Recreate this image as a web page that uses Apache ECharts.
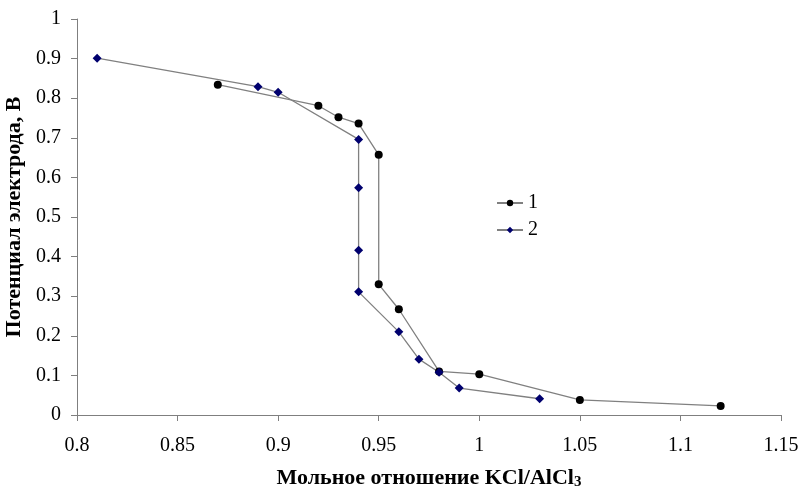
<!DOCTYPE html>
<html><head><meta charset="utf-8">
<script src="https://cdn.jsdelivr.net/npm/echarts@6/dist/echarts.min.js"></script>
<style>html,body{margin:0;padding:0;background:#fff}#c{width:798px;height:488px}</style>
</head><body><div id="c"></div>
<script>
const series1X = [0.87, 0.92, 0.93, 0.94, 0.95, 0.95, 0.96, 0.98, 1.00, 1.05, 1.12];
const series1Y = [0.834, 0.781, 0.752, 0.736, 0.657, 0.330, 0.267, 0.110, 0.103, 0.038, 0.023];
const series2X = [0.81, 0.89, 0.90, 0.94, 0.94, 0.94, 0.94, 0.96, 0.97, 0.98, 0.99, 1.03];
const series2Y = [0.901, 0.829, 0.815, 0.696, 0.574, 0.416, 0.311, 0.210, 0.141, 0.108, 0.068, 0.041];
const seriesNames = ['1', '2'];
const xTitle = 'Мольное отношение KCl/AlCl';
const yTitle = 'Потенциал электрода, В';

const font = 'Liberation Serif';
const chart = echarts.init(document.getElementById('c'), null, {renderer: 'canvas'});
const zip = (xs, ys) => xs.map((x, i) => [x, ys[i]]);
const axisLine = {lineStyle: {color: '#7f7f7f', width: 1}};
chart.setOption({
  animation: false,
  backgroundColor: '#fff',
  grid: {left: 77, right: 17, top: 19, bottom: 73, containLabel: false, outerBoundsMode: 'none'},
  xAxis: {
    type: 'value', min: 0.8, max: 1.15, interval: 0.05,
    axisLine: axisLine,
    axisTick: {show: true, inside: false, length: 6, lineStyle: {color: '#7f7f7f'}},
    splitLine: {show: false},
    axisLabel: {color: '#000', fontFamily: font, fontSize: 20, margin: 21,
      formatter: v => String(+v.toFixed(2))},
    name: '{t|' + xTitle + '}{s|3}',
    nameLocation: 'middle', nameGap: 51,
    nameTextStyle: {rich: {
      t: {fontFamily: font, fontSize: 22, fontWeight: 'bold', color: '#000'},
      s: {fontFamily: font, fontSize: 15, fontWeight: 'bold', color: '#000', padding: [9, 0, 0, 0]}
    }}
  },
  yAxis: {
    type: 'value', min: 0, max: 1, interval: 0.1,
    axisLine: {show: true, lineStyle: {color: '#7f7f7f', width: 1}},
    axisTick: {show: true, inside: false, length: 6, lineStyle: {color: '#7f7f7f'}},
    splitLine: {show: false},
    axisLabel: {color: '#000', fontFamily: font, fontSize: 20, margin: 16,
      formatter: v => String(+v.toFixed(1))},
    name: yTitle, nameLocation: 'middle', nameGap: 44, nameRotate: 90,
    nameTextStyle: {fontFamily: font, fontSize: 22, fontWeight: 'bold', color: '#000'}
  },
  legend: {
    orient: 'vertical', left: 491, top: 188, itemGap: 7,
    itemWidth: 26, itemHeight: 8,
    textStyle: {fontFamily: font, fontSize: 20, color: '#000'},
    data: seriesNames
  },
  series: [
    {name: seriesNames[0], type: 'line', data: zip(series1X, series1Y),
     symbol: 'circle', symbolSize: 8,
     itemStyle: {color: '#000'},
     lineStyle: {color: '#808080', width: 1.3}},
    {name: seriesNames[1], type: 'line', data: zip(series2X, series2Y),
     symbol: 'diamond', symbolSize: 9,
     itemStyle: {color: '#00006e'},
     lineStyle: {color: '#808080', width: 1.3}}
  ]
});
</script></body></html>
